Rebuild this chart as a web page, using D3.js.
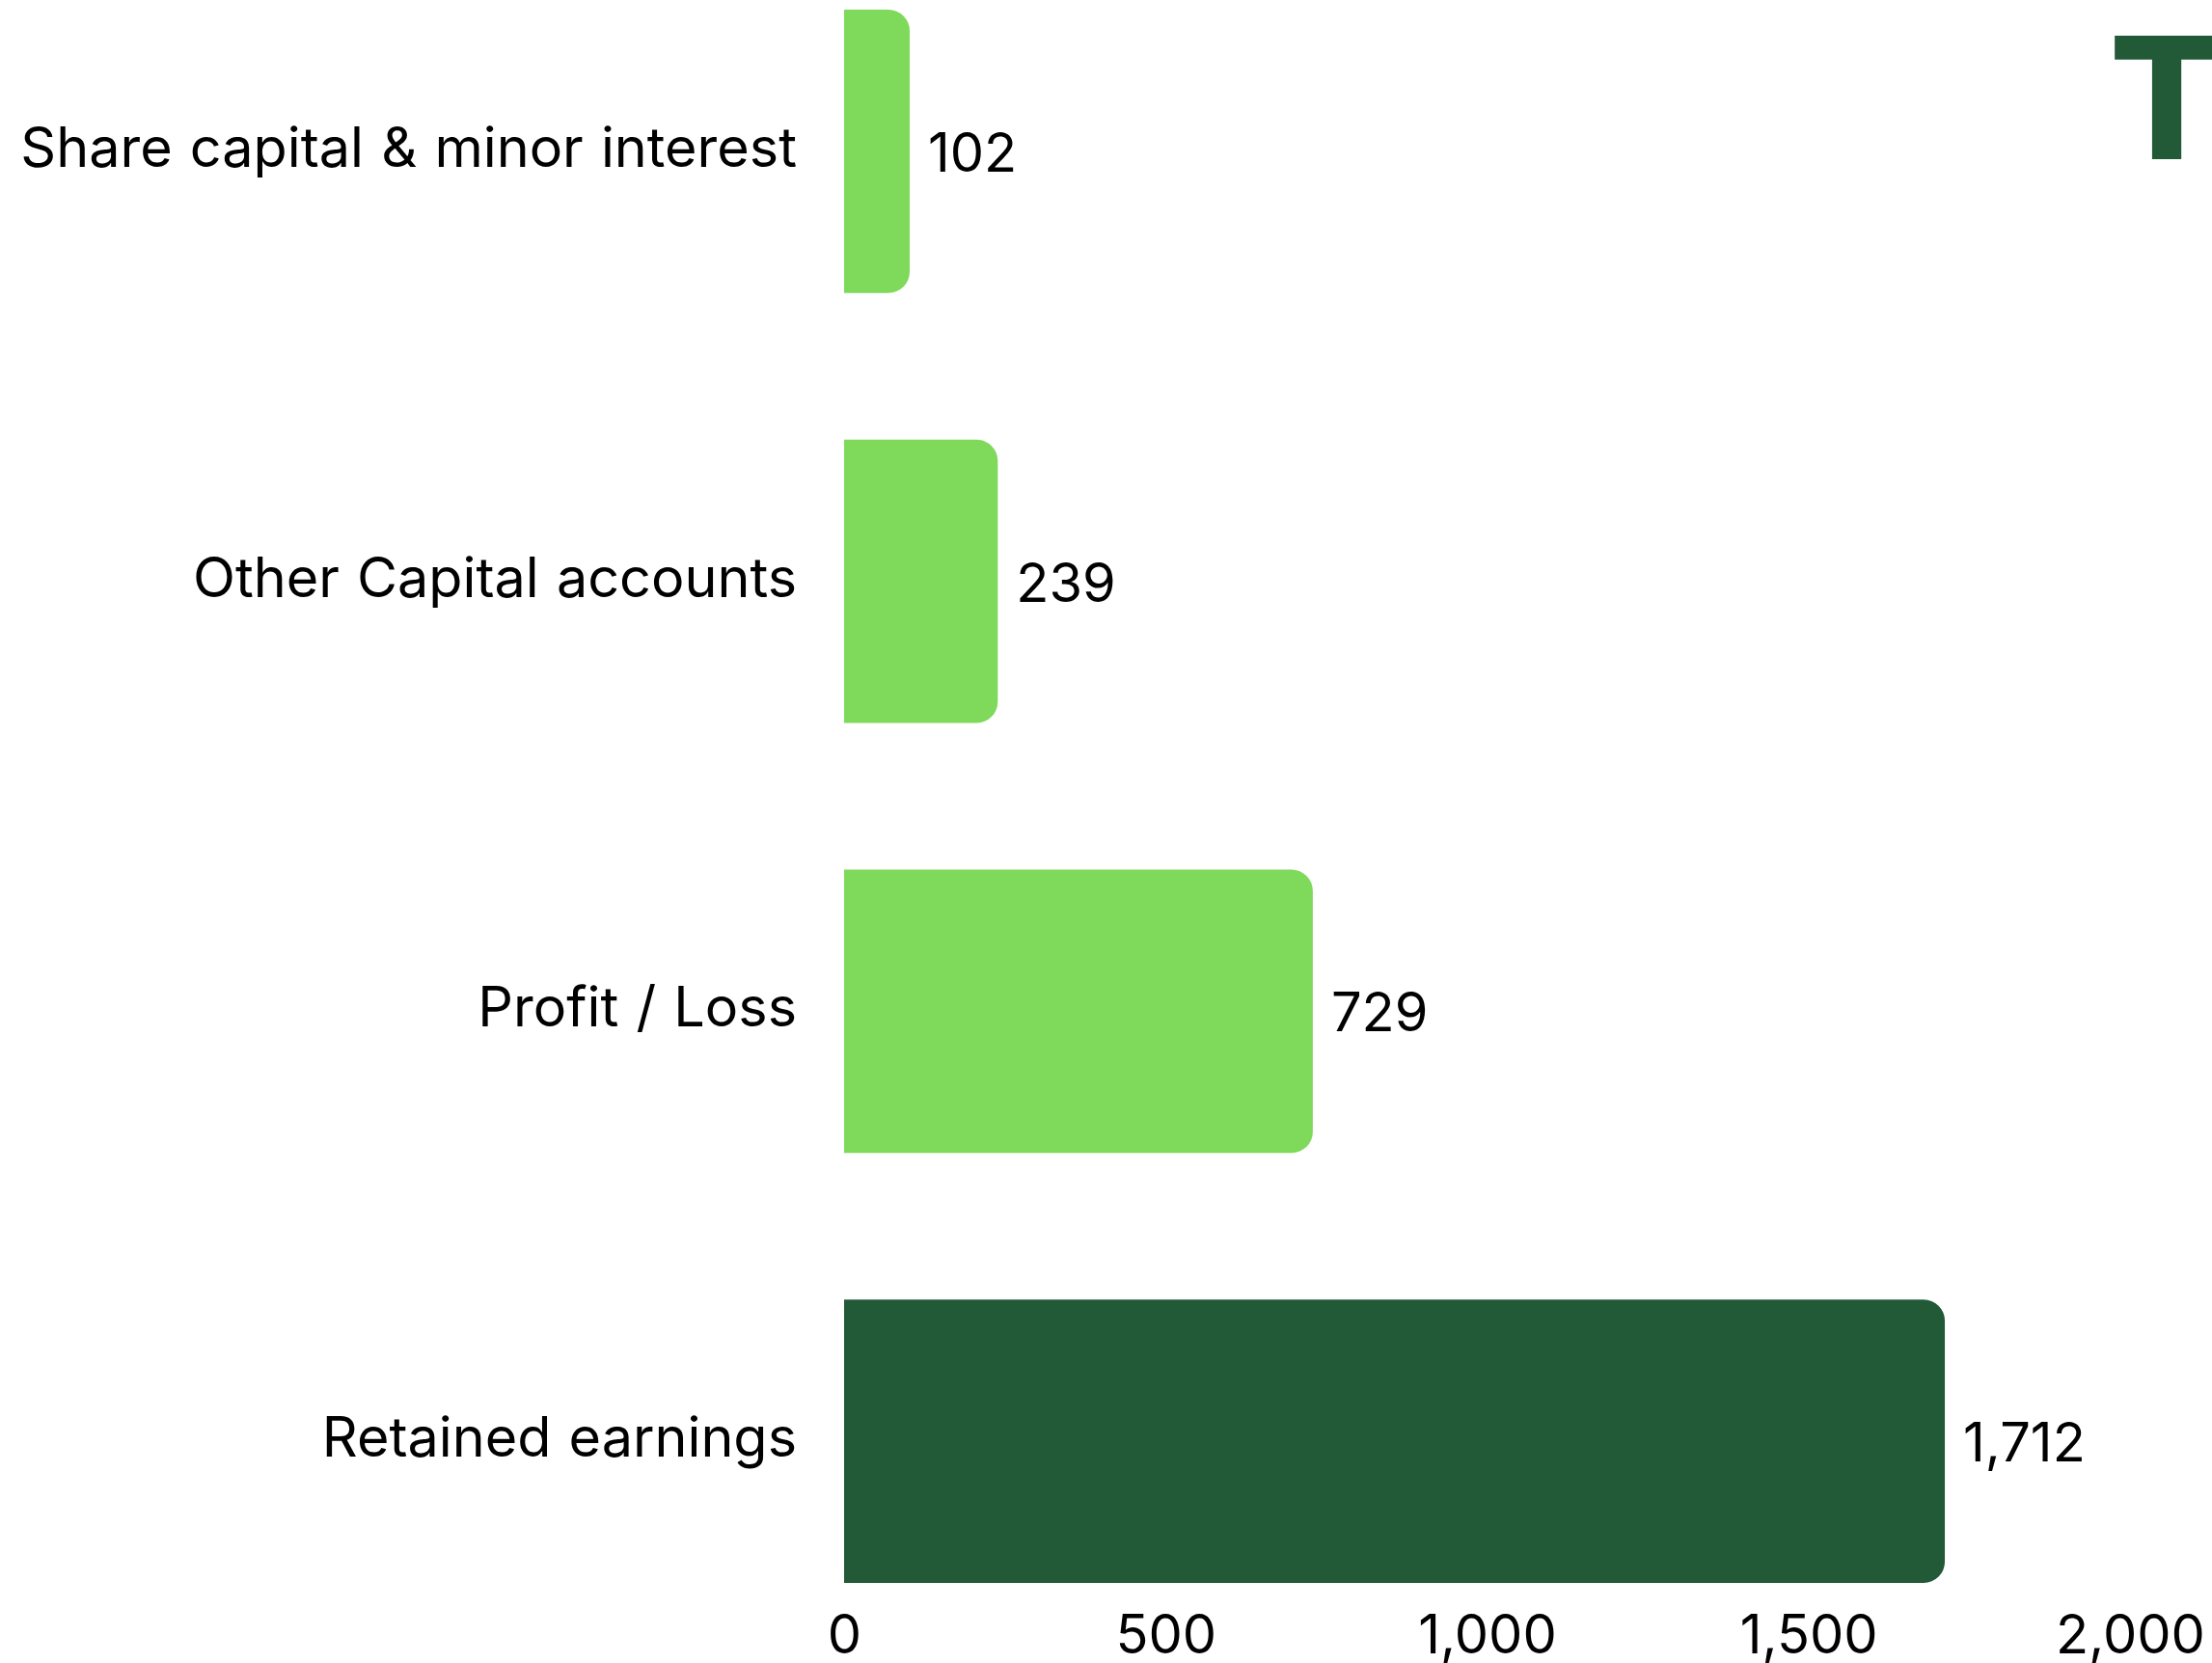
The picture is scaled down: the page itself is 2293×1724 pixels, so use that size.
<!DOCTYPE html>
<html>
<head>
<meta charset="utf-8">
<script src="https://cdn.jsdelivr.net/npm/d3@7"></script>
<style>
  body { margin: 0; background: #fff; }
  svg text { font-family: Inter, "Noto Sans", sans-serif; fill: #000; }
</style>
</head>
<body>
<div id="chart"></div>
<script>
// data
var categories = ["Share capital & minor interest", "Other Capital accounts", "Profit / Loss", "Retained earnings"];
var values = [102, 239, 729, 1712];
var highlight = [false, false, false, true];
var xTicks = [0, 500, 1000, 1500, 2000];

var W = 2293, H = 1724;
var x0 = 875, x1 = 2208;

var svg = d3.select("#chart").append("svg")
  .attr("width", W)
  .attr("height", H);

var xScale = d3.scaleLinear().domain([0, 2000]).range([x0, x1]);
var yScale = d3.scaleBand().domain(categories).range([10, 1641]).paddingInner(0.341).paddingOuter(0);

var rows = categories.map(function(c, i) {
  return { cat: c, val: values[i], hl: highlight[i] };
});

// bar with rounded right end only
function barPath(d) {
  var x = xScale(0), y = yScale(d.cat), w = xScale(d.val) - xScale(0), h = yScale.bandwidth();
  var r = Math.min(22, w / 2);
  return "M" + x + "," + y +
    "H" + (x + w - r) +
    "A" + r + "," + r + " 0 0 1 " + (x + w) + "," + (y + r) +
    "V" + (y + h - r) +
    "A" + r + "," + r + " 0 0 1 " + (x + w - r) + "," + (y + h) +
    "H" + x + "Z";
}

svg.selectAll(".bar")
  .data(rows)
  .enter().append("path")
  .attr("class", "bar")
  .attr("d", barPath)
  .attr("fill", function(d) { return d.hl ? "#225937" : "#7FD95A"; });

// value labels
svg.selectAll(".val")
  .data(rows)
  .enter().append("text")
  .attr("class", "val")
  .attr("x", function(d) { return xScale(d.val) + 19; })
  .attr("y", function(d) { return yScale(d.cat) + yScale.bandwidth() / 2 + 21; })
  .attr("font-size", 56)
  .text(function(d) { return d3.format(",")(d.val); });

// category labels
svg.selectAll(".cat")
  .data(rows)
  .enter().append("text")
  .attr("class", "cat")
  .attr("x", 826)
  .attr("y", function(d) { return yScale(d.cat) + yScale.bandwidth() / 2 + 16; })
  .attr("text-anchor", "end")
  .attr("font-size", 57.5)
  .style("word-spacing", "2px")
  .text(function(d) { return d.cat; });

// x axis
var xAxis = svg.append("g")
  .attr("transform", "translate(0,1641)")
  .call(d3.axisBottom(xScale).tickValues(xTicks).tickFormat(d3.format(",")).tickSize(0).tickPadding(0));
xAxis.select(".domain").remove();
xAxis.selectAll("text")
  .attr("y", 73)
  .attr("dy", null)
  .attr("font-size", 56)
  .attr("fill", "#000")
  .style("font-family", "Inter, sans-serif");

// logo mark
svg.append("text")
  .attr("x", 2246)
  .attr("y", 165)
  .attr("text-anchor", "middle")
  .attr("font-size", 176)
  .attr("font-weight", 800)
  .style("fill", "#225937")
  .text("T");
</script>
</body>
</html>
